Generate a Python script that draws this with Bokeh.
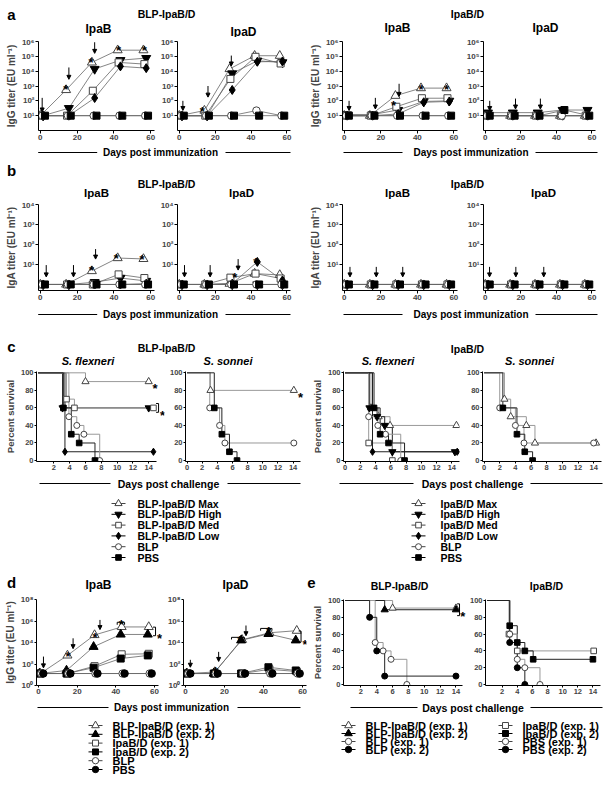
import math
from bokeh.plotting import figure
from bokeh.layouts import column, row
from bokeh.models import Range1d, Label, Arrow, NormalHead, FixedTicker, ColumnDataSource
from bokeh.transform import dodge
from bokeh.core.properties import value
from bokeh.embed import file_html
from bokeh.resources import INLINE

FONT = "Liberation Sans"

# ======================= DATA =======================
DAYS = [0, 14, 28, 42, 56]
IMM_GROUPS = ["Max", "High", "Med", "Low", "BLP", "PBS"]

# (a) serum IgG titers (EU/ml)
IGG_BLP_IPAB = {"Max": [10, 540, 39000, 260000, 260000], "High": [10, 32, 14000, 55000, 76000],
                "Med": [10, 10, 480, 39000, 30000], "Low": [10, 10, 155, 21000, 16000],
                "BLP": [10, 10, 10, 10, 10], "PBS": [10, 10, 10, 10, 10]}
IGG_BLP_IPAD = {"Max": [10, 22, 14000, 110000, 110000], "High": [10, 10, 7000, 50000, 39000],
                "Med": [10, 10, 3000, 93000, 33000], "Low": [10, 10, 540, 43000, 45000],
                "BLP": [10, 10, 10, 22, 10], "PBS": [10, 10, 10, 10, 10]}
IGG_IPABD_IPAB = {"Max": [10, 10, 220, 720, 720], "High": [12, 12, 24, 91, 100],
                  "Med": [10, 10, 40, 150, 150], "Low": [10, 10, 13, 80, 91],
                  "BLP": [10, 10, 10, 10, 10], "PBS": [10, 10, 10, 10, 10]}
IGG_IPABD_IPAD = {"Max": [10, 10, 10, 10, 10], "High": [16, 16, 16, 24, 24],
                  "Med": [10, 10, 10, 10, 10], "Low": [10, 10, 10, 10, 10],
                  "BLP": [10, 10, 10, 10, 10], "PBS": [10, 10, 10, 24, 10]}

# (b) IgA titers (EU/ml)
IGA_BLP_IPAB = {"Max": [1, 1, 4.7, 21, 19], "High": [1, 1, 1.3, 2.1, 1.5],
                "Med": [1, 1, 1, 3.2, 2.1], "Low": [1, 1, 1, 1, 1.1],
                "BLP": [1, 1, 1, 1, 1], "PBS": [1, 1, 1, 1, 1]}
IGA_BLP_IPAD = {"Max": [1, 1, 1.1, 3.5, 3], "High": [1, 1, 1, 1, 1],
                "Med": [1, 1, 2.2, 3.5, 2], "Low": [1, 1, 1.1, 13.5, 1.6],
                "BLP": [1, 1, 1, 1, 1], "PBS": [1, 1, 1, 1, 1]}
IGA_IPABD_IPAB = {"Max": [1, 1, 1, 1, 1], "High": [1, 1, 1, 1, 1], "Med": [1, 1, 1, 1, 1],
                  "Low": [1, 1, 1, 1, 1], "BLP": [1, 1, 1, 1, 1], "PBS": [1, 1, 1, 1, 1]}
IGA_IPABD_IPAD = {"Max": [1, 1, 1, 1, 1], "High": [1, 1, 1, 1, 1], "Med": [1, 1, 1, 1, 1],
                  "Low": [1, 1, 1, 1, 1], "BLP": [1, 1, 1, 1, 1], "PBS": [1, 1, 1, 1, 1]}

# (c) survival: (days, percent survival)
SURV_BLP_FLEX = {"Max": ([0, 6.0, 14.0], [100, 90, 90]),
                 "High": ([0, 3.1, 14.0], [100, 60, 60]),
                 "Med": ([0, 3.6, 4.6, 14.6], [100, 70, 60, 60]),
                 "Low": ([0, 3.4, 14.6], [100, 10, 10]),
                 "BLP": ([0, 3.9, 4.9, 5.8, 7.8], [100, 50, 40, 30, 0]),
                 "PBS": ([0, 3.2, 4.2, 5.2, 7.2], [100, 60, 30, 20, 0])}
SURV_BLP_SONN = {"Max": ([0, 3.1, 14.1], [100, 80, 80]),
                 "BLP": ([0, 3.0, 4.3, 5.0, 14.1], [100, 60, 40, 20, 20]),
                 "PBS": ([0, 3.6, 4.6, 5.6, 6.6], [100, 60, 30, 10, 0])}
SURV_IPABD_FLEX = {"Max": ([0, 3.4, 4.4, 5.9, 14.6], [100, 60, 50, 40, 40]),
                   "High": ([0, 3.2, 4.2, 5.2, 6.2, 14.4], [100, 60, 50, 40, 10, 10]),
                   "Med": ([0, 3.1, 6.2], [100, 20, 0]),
                   "Low": ([0, 3.6, 14.7], [100, 10, 10]),
                   "BLP": ([0, 3.1, 4.3, 5.3, 7.3], [100, 50, 40, 30, 0]),
                   "PBS": ([0, 3.8, 4.6, 5.7, 7.8], [100, 60, 30, 20, 0])}
SURV_IPABD_SONN = {"Max": ([0, 2.6, 3.4, 5.4, 6.5, 14.3], [100, 70, 50, 40, 20, 20]),
                   "BLP": ([0, 2.0, 4.0, 5.1, 14.0], [100, 60, 40, 20, 20]),
                   "PBS": ([0, 2.4, 4.2, 5.2, 6.2], [100, 60, 30, 10, 0])}

# (d) IgG titers, two experiments
IGG_EXP_IPAB = {"BLP-IpaB/D (exp. 1)": [13, 630, 50000, 280000, 280000],
                "BLP-IpaB/D (exp. 2)": [13, 25, 4000, 56000, 56000],
                "IpaB/D (exp. 1)": [13, 13, 63, 800, 890],
                "IpaB/D (exp. 2)": [13, 13, 45, 320, 630],
                "BLP": [13, 13, 13, 13, 13], "PBS": [13, 13, 13, 13, 13]}
IGG_EXP_IPAD = {"BLP-IpaB/D (exp. 1)": [13, 18, 18000, 80000, 126000],
                "BLP-IpaB/D (exp. 2)": [13, 13, 16000, 63000, 16000],
                "IpaB/D (exp. 1)": [13, 13, 13, 32, 20],
                "IpaB/D (exp. 2)": [13, 13, 13, 50, 25],
                "BLP": [13, 13, 13, 13, 13], "PBS": [13, 13, 13, 13, 13]}

# (e) survival, two experiments
SURV_EXP_BLP = {"BLP-IpaB/D (exp. 1)": ([0, 6.0, 14.0], [100, 91, 91]),
                "BLP-IpaB/D (exp. 2)": ([0, 5.0, 14.0], [100, 89, 89]),
                "BLP (exp. 1)": ([0, 3.8, 4.8, 5.8, 7.8], [100, 50, 40, 30, 0]),
                "BLP (exp. 2)": ([0, 3.1, 4.0, 5.0, 14.0], [100, 80, 40, 10, 10])}
SURV_EXP_IPABD = {"IpaB/D (exp. 1)": ([0, 2.9, 4.0, 14.1], [100, 60, 40, 40]),
                  "IpaB/D (exp. 2)": ([0, 3.0, 4.0, 5.0, 6.1, 14.0], [100, 70, 50, 40, 30, 30]),
                  "PBS (exp. 1)": ([0, 3.0, 4.0, 5.0, 7.0], [100, 60, 30, 20, 0]),
                  "PBS (exp. 2)": ([0, 3.0, 4.0, 5.0], [100, 50, 20, 0])}

LEGEND_C_LEFT = ["BLP-IpaB/D Max", "BLP-IpaB/D High", "BLP-IpaB/D Med", "BLP-IpaB/D Low", "BLP", "PBS"]
LEGEND_C_RIGHT = ["IpaB/D Max", "IpaB/D High", "IpaB/D Med", "IpaB/D Low", "BLP", "PBS"]
LEGEND_D = ["BLP-IpaB/D (exp. 1)", "BLP-IpaB/D (exp. 2)", "IpaB/D (exp. 1)", "IpaB/D (exp. 2)", "BLP", "PBS"]
LEGEND_E_LEFT = ["BLP-IpaB/D (exp. 1)", "BLP-IpaB/D (exp. 2)", "BLP (exp. 1)", "BLP (exp. 2)"]
LEGEND_E_RIGHT = ["IpaB/D (exp. 1)", "IpaB/D (exp. 2)", "PBS (exp. 1)", "PBS (exp. 2)"]

# annotations (arrows: day, tail, tip ; stars: day, level) - log10 units on titer panels
ANN_A = [
    dict(arrows=[(1, 2.2, 1.25), (15.5, 4.25, 3.45), (29.5, 5.95, 5.2)],
         stars=[(13.8, 3.25), (27.5, 5.05), (42.5, 5.9), (56.5, 5.9)]),
    dict(arrows=[(2, 2.0, 1.35), (16, 3.0, 2.25), (29, 5.05, 4.35)], stars=[(12.8, 1.75)]),
    dict(arrows=[(2.6, 2.0, 1.35), (17, 2.2, 1.45), (30, 3.15, 2.3)],
         stars=[(27, 2.15), (42, 3.25), (56, 3.25)]),
    dict(arrows=[(2.5, 2.0, 1.35), (17, 2.15, 1.45), (31, 2.15, 1.45)], stars=[]),
]
ANN_B = [
    dict(arrows=[(3.2, 0.97, 0.38), (18, 0.97, 0.38), (30, 1.77, 1.27)],
         stars=[(27.8, 1.05), (41.2, 1.67), (55.2, 1.6)]),
    dict(arrows=[(2.9, 0.97, 0.38), (17.2, 0.97, 0.38), (32.8, 1.27, 0.72)],
         stars=[(31, 0.72), (42.7, 1.47)]),
    dict(arrows=[(3.1, 0.88, 0.38), (17.5, 0.88, 0.38), (32, 0.88, 0.38)], stars=[]),
    dict(arrows=[(2.4, 0.88, 0.38), (17.2, 0.88, 0.38), (32.9, 0.88, 0.38)], stars=[]),
]
ANN_C = [
    dict(stars=[(14.8, 90), (15.75, 60)], rbrackets=[(15.25, 55, 65)]),
    dict(stars=[(15.0, 80)]),
    dict(), dict(),
]
ANN_D = [
    dict(arrows=[(2.6, 2.69, 1.64), (17.9, 4.39, 3.43), (31.8, 6.1, 5.2)],
         stars=[(15.3, 3.34), (28.5, 4.09), (29.3, 5.16), (42.8, 6.33), (62.6, 5.07)],
         tbrackets=[(40.7, 44.5, 5.88, 5.65)], rbrackets=[(60.5, 4.63, 5.43)]),
    dict(arrows=[(2.5, 2.39, 1.7), (17, 3.13, 2.24), (31, 5.58, 4.63)],
         stars=[(15.4, 1.94), (27.8, 4.84), (42.6, 5.67), (61.2, 4.48)],
         tbrackets=[(23.6, 30.2, 4.48, 4.28), (38.5, 44.3, 5.31, 5.1)], rbrackets=[(59.2, 4.03, 5.07)]),
]
ANN_E = [dict(stars=[(14.85, 89.4)], rbrackets=[(14.45, 82, 96)]), dict()]

# ======================= STYLES =======================
STY = {
    "open_tri": dict(marker="triangle", fill="white", edge="#444", curve="#999"),
    "inv_tri": dict(marker="inverted_triangle", fill="black", edge="black", curve="#222"),
    "open_sq": dict(marker="square", fill="white", edge="#444", curve="#999"),
    "diamond": dict(marker="diamond", fill="black", edge="black", curve="#222"),
    "open_circ": dict(marker="circle", fill="white", edge="#444", curve="#999"),
    "sq": dict(marker="square", fill="black", edge="black", curve="#222"),
    "tri": dict(marker="triangle", fill="black", edge="black", curve="#222"),
    "circ": dict(marker="circle", fill="black", edge="black", curve="#222"),
}
MSIZE = {"triangle": 9, "inverted_triangle": 9, "square": 7, "diamond": 9, "circle": 7.5}
GROUP_STYLE = {"Max": "open_tri", "High": "inv_tri", "Med": "open_sq", "Low": "diamond", "BLP": "open_circ", "PBS": "sq"}
LEG_C_STYLE = dict(zip(LEGEND_C_LEFT + LEGEND_C_RIGHT, [GROUP_STYLE[g] for g in IMM_GROUPS] * 2))
EXP_STYLE = {"BLP-IpaB/D (exp. 1)": "open_tri", "BLP-IpaB/D (exp. 2)": "tri", "IpaB/D (exp. 1)": "open_sq",
             "IpaB/D (exp. 2)": "sq", "BLP": "open_circ", "PBS": "circ", "BLP (exp. 1)": "open_circ",
             "BLP (exp. 2)": "circ", "PBS (exp. 1)": "open_circ", "PBS (exp. 2)": "circ"}
IMM_OFFSET = {"Max": 0.0, "High": 1.5, "Med": 0.5, "Low": 1.5, "BLP": 1.0, "PBS": 2.5}
EXP_OFFSET = {"BLP-IpaB/D (exp. 1)": 1.0, "BLP-IpaB/D (exp. 2)": 0.5, "IpaB/D (exp. 1)": 1.0,
              "IpaB/D (exp. 2)": 0.5, "BLP": 1.5, "PBS": 2.5}

SUP = {0: "\u2070", 1: "\u00b9", 2: "\u00b2", 3: "\u00b3", 4: "\u2074", 5: "\u2075",
       6: "\u2076", 7: "\u2077", 8: "\u2078"}
W = 612


# ======================= HELPERS =======================
class Panel:
    def __init__(self, box, frame, xr, yr, ylog=False, axes=True):
        self.box, self.frame, self.xr, self.yr, self.ylog = box, frame, xr, yr, ylog
        bx0, bx1, by0, by1 = box
        fx0, fx1, fy0, fy1 = frame
        if not axes:
            kw = dict(x_axis_type=None, y_axis_type=None)
        else:
            kw = dict(y_axis_type="log" if ylog else "linear")
        self.p = figure(width=bx1 - bx0, height=by1 - by0, x_range=Range1d(*xr), y_range=Range1d(*yr),
                        min_border_left=fx0 - bx0, min_border_right=bx1 - fx1,
                        min_border_top=fy0 - by0, min_border_bottom=by1 - fy1,
                        toolbar_location=None, output_backend="svg", title=None, **kw)
        self.p.outline_line_color = None

    def _t(self, v):
        return math.log10(v) if self.ylog else v

    def d2i(self, x, y):
        fx0, fx1, fy0, fy1 = self.frame
        x0, x1 = self.xr
        y0, y1 = self._t(self.yr[0]), self._t(self.yr[1])
        return (fx0 + (x - x0) / (x1 - x0) * (fx1 - fx0),
                fy1 - (self._t(y) - y0) / (y1 - y0) * (fy1 - fy0))

    def i2d(self, ix, iy):
        fx0, fx1, fy0, fy1 = self.frame
        x0, x1 = self.xr
        y0, y1 = self._t(self.yr[0]), self._t(self.yr[1])
        t = y0 + (fy1 - iy) / (fy1 - fy0) * (y1 - y0)
        return (x0 + (ix - fx0) / (fx1 - fx0) * (x1 - x0), 10 ** t if self.ylog else t)

    def text(self, ix, iy, s, size, style="bold", align="center", baseline="middle"):
        x, y = self.i2d(ix, iy)
        self.p.add_layout(Label(x=x, y=y, text=s, text_font=FONT, text_font_size=size,
                                text_font_style=style, text_align=align, text_baseline=baseline,
                                text_color="black"))

    def seg(self, ix0, iy0, ix1, iy1, color="black", width=1):
        x0, y0 = self.i2d(ix0, iy0)
        x1, y1 = self.i2d(ix1, iy1)
        self.p.add_layout(Arrow(x_start=x0, y_start=y0, x_end=x1, y_end=y1, end=None,
                                line_color=color, line_width=width))


def deco(y0, y1, x0=0, x1=W):
    return Panel((x0, x1, y0, y1), (x0, x1, y0, y1), (x0, x1), (y1, y0), axes=False)


def style_axes(pn, xticks, yticks, xbounds, ylabels=None, ylabel=None, tick_size="8px", label_size="10px", tick_out=3):
    p = pn.p
    p.xgrid.visible = False
    p.ygrid.visible = False
    for ax in (p.xaxis[0], p.yaxis[0]):
        ax.axis_line_color = "black"
        ax.axis_line_width = 1
        ax.major_tick_line_color = "black"
        ax.major_tick_in = 0
        ax.major_tick_out = tick_out
        ax.minor_tick_line_color = None
        ax.major_label_text_font = FONT
        ax.major_label_text_font_style = "bold"
        ax.major_label_text_font_size = tick_size
        ax.major_label_standoff = 1
    p.xaxis[0].ticker = FixedTicker(ticks=xticks)
    p.xaxis[0].bounds = xbounds
    p.yaxis[0].ticker = FixedTicker(ticks=yticks)
    if ylabels:
        p.yaxis[0].major_label_overrides = ylabels
    if ylabel:
        ax = p.yaxis[0]
        ax.axis_label = ylabel
        ax.axis_label_text_font = FONT
        ax.axis_label_text_font_style = "bold"
        ax.axis_label_text_font_size = label_size
        ax.axis_label_standoff = 2


def log_labels(exps):
    return {10 ** k: "10" + SUP[k] for k in exps}


def draw_titer(pn, table, style_of, offset_of, scale=1.0):
    p = pn.p
    srcs = {g: ColumnDataSource(dict(day=DAYS, titer=v)) for g, v in table.items()}
    for g in table:
        p.line(x=dodge("day", offset_of[g]), y="titer", source=srcs[g], line_color="#666", line_width=0.8)
    for g in table:
        st = STY[style_of[g]]
        p.scatter(x=dodge("day", offset_of[g]), y="titer", source=srcs[g], marker=st["marker"],
                  size=MSIZE[st["marker"]] * scale, fill_color=st["fill"], line_color=st["edge"], line_width=1)


def draw_surv(pn, table, style_of, scale=0.8):
    p = pn.p
    for g, (d, s) in table.items():
        st = STY[style_of[g]]
        p.step(d, s, mode="after", line_color=st["curve"], line_width=1)
    for g, (d, s) in table.items():
        st = STY[style_of[g]]
        p.scatter(d[1:], s[1:], marker=st["marker"], size=MSIZE[st["marker"]] * scale,
                  fill_color=st["fill"], line_color=st["edge"], line_width=1)


def star(pn, x, y, size=13):
    ix, iy = pn.d2i(x, y)
    pn.text(ix, iy + 0.56 * size, "*", f"{size}px", baseline="alphabetic")


def annotate(pn, ann):
    f = (lambda v: 10 ** v) if pn.ylog else (lambda v: v)
    for x, tail, tip in ann.get("arrows", []):
        pn.p.add_layout(Arrow(x_start=x, y_start=f(tail), x_end=x, y_end=f(tip), line_width=1,
                              line_color="black",
                              end=NormalHead(size=4, fill_color="black", line_color="black", line_width=1)))
    for x, y in ann.get("stars", []):
        star(pn, x, f(y))
    for x, ylo, yhi in ann.get("rbrackets", []):
        ix, ilo = pn.d2i(x, f(ylo))
        _, ihi = pn.d2i(x, f(yhi))
        pn.seg(ix - 2.5, ihi, ix, ihi)
        pn.seg(ix, ihi, ix, ilo)
        pn.seg(ix - 2.5, ilo, ix, ilo)
    for x0, x1, ytop, yleg in ann.get("tbrackets", []):
        ia, it = pn.d2i(x0, f(ytop))
        ib, il = pn.d2i(x1, f(yleg))
        pn.seg(ia, il, ia, it)
        pn.seg(ia, it, ib, it)
        pn.seg(ib, it, ib, il)


def draw_legend(pn, labels, style_of, mx, tx, y0, dy, size, mscale=0.8, half=7):
    p = pn.p
    ys = [y0 + i * dy for i in range(len(labels))]
    for lab, y in zip(labels, ys):
        st = STY[style_of[lab]]
        p.line([mx - half, mx + half], [y, y], line_color="#444" if st["fill"] == "white" else "black", line_width=1)
        p.scatter([mx], [y], marker=st["marker"], size=MSIZE[st["marker"]] * mscale,
                  fill_color=st["fill"], line_color=st["edge"], line_width=1)
    p.text(x=[tx] * len(labels), y=ys, text=labels, text_font=value(FONT), text_font_style="bold",
           text_font_size=size, text_align="left", text_baseline="middle", text_color="black")


def footer(pn, segs, cx, cy, txt, size="10px"):
    for a, b in segs:
        pn.p.line([a, b], [cy, cy], line_color="black", line_width=1)
    pn.text(cx, cy, txt, size)


# ======================= BUILD =======================
TITER_X = [((0, 157), (38, 154)), ((157, 304), (175, 290)), ((304, 463), (342, 457)), ((463, W), (480, 595))]

# ---- header a (with subplot titles)
hA = deco(0, 37)
hA.text(11, 14, "a", "15px")
hA.text(166, 13, "BLP-IpaB/D", "10.5px")
hA.text(467, 13, "IpaB/D", "10.5px")
for tt, tx, ty in [("IpaB", 98, 28), ("IpaD", 243, 31), ("IpaB", 397, 27), ("IpaD", 545, 27)]:
    hA.text(tx, ty, tt, "12px")

# ---- row a
A_TABLES = [IGG_BLP_IPAB, IGG_BLP_IPAD, IGG_IPABD_IPAB, IGG_IPABD_IPAD]
rowA = []
for i, ((bx, fx), tab, ann) in enumerate(zip(TITER_X, A_TABLES, ANN_A)):
    pn = Panel((bx[0], bx[1], 37, 146), (fx[0], fx[1], 41, 130), (-1, 62), (1, 1e6), ylog=True)
    style_axes(pn, [0, 20, 40, 60], [10 ** k for k in range(1, 7)], (-1, 62), log_labels(range(1, 7)),
               "IgG titer (EU ml\u207b\u00b9)" if i in (0, 2) else None)
    draw_titer(pn, tab, GROUP_STYLE, IMM_OFFSET)
    annotate(pn, ann)
    rowA.append(pn.p)

# ---- footer a + header b
fAB = deco(146, 200)
footer(fAB, [(37.7, 96.7), (225, 290)], 160, 152, "Days post immunization")
footer(fAB, [(343, 402), (535, 597)], 470.5, 152, "Days post immunization")
fAB.text(11, 170, "b", "15px")
fAB.text(166, 183, "BLP-IpaB/D", "10.5px")
fAB.text(467, 183, "IpaB/D", "10.5px")
for tt, tx, ty in [("IpaB", 96, 192), ("IpaD", 241, 192), ("IpaB", 397, 192), ("IpaD", 543, 192)]:
    fAB.text(tx, ty, tt, "11.5px")

# ---- row b
B_TABLES = [IGA_BLP_IPAB, IGA_BLP_IPAD, IGA_IPABD_IPAB, IGA_IPABD_IPAD]
rowB = []
for i, ((bx, fx), tab, ann) in enumerate(zip(TITER_X, B_TABLES, ANN_B)):
    pn = Panel((bx[0], bx[1], 200, 306), (fx[0], fx[1], 204, 290), (-1, 62), (0.5, 1e4), ylog=True)
    style_axes(pn, [0, 20, 40, 60], [10 ** k for k in range(1, 5)], (-1, 62), log_labels(range(1, 5)),
               "IgA titer (EU ml\u207b\u00b9)" if i in (0, 2) else None)
    draw_titer(pn, tab, GROUP_STYLE, IMM_OFFSET)
    annotate(pn, ann)
    rowB.append(pn.p)

# ---- footer b + header c
fBC = deco(306, 367)
footer(fBC, [(37.7, 96.7), (225, 290)], 160, 314, "Days post immunization")
footer(fBC, [(343, 402), (535, 597)], 470.5, 314, "Days post immunization")
fBC.text(11, 346, "c", "15px")
fBC.text(166, 347, "BLP-IpaB/D", "10.5px")
fBC.text(467, 348, "IpaB/D", "10.5px")
for tt, tx, ty in [("S. flexneri", 87.5, 360), ("S. sonnei", 227.5, 360), ("S. flexneri", 387.5, 360), ("S. sonnei", 529, 360)]:
    fBC.text(tx, ty, tt, "11px", style="bold italic")

# ---- row c
SURV_X = [((0, 166), (36, 164), (-0.2, 16.0), (-0.2, 14.95)),
          ((166, 306), (181, 305), (-0.2, 15.64), (-0.2, 15.0)),
          ((306, 463), (343, 459), (-0.2, 15.0), (-0.2, 15.0)),
          ((463, W), (480, 601), (-0.2, 15.0), (-0.2, 15.0))]
C_TABLES = [SURV_BLP_FLEX, SURV_BLP_SONN, SURV_IPABD_FLEX, SURV_IPABD_SONN]
C_XTICKS = [[2, 4, 6, 8, 10, 12, 14], [0, 2, 4, 6, 8, 10, 12, 14], [0, 2, 4, 6, 8, 10, 12, 14], [0, 2, 4, 6, 8, 10, 12, 14]]
rowC = []
for i, ((bx, fx, xr, xb), tab, ann, xt) in enumerate(zip(SURV_X, C_TABLES, ANN_C, C_XTICKS)):
    pn = Panel((bx[0], bx[1], 367, 476), (fx[0], fx[1], 371, 461), xr, (-1.1, 101.5))
    style_axes(pn, xt, [0, 20, 40, 60, 80, 100], xb, None,
               "Percent survival" if i in (0, 2) else None, tick_size="7.5px", label_size="9.5px", tick_out=2)
    draw_surv(pn, tab, GROUP_STYLE)
    annotate(pn, ann)
    rowC.append(pn.p)

# ---- footer c + legend c + header d/e
fCD = deco(476, 592)
footer(fCD, [(39, 110), (227, 300)], 168, 483, "Days post challenge", "10.5px")
footer(fCD, [(339, 413), (530, 602)], 472, 483, "Days post challenge", "10.5px")
draw_legend(fCD, LEGEND_C_LEFT, LEG_C_STYLE, 118, 137, 503, 10.8, "10.5px")
draw_legend(fCD, LEGEND_C_RIGHT, LEG_C_STYLE, 418, 440, 503, 10.8, "10.5px")
fCD.text(11, 582, "d", "15px")
fCD.text(311, 582, "e", "15px")
fCD.text(98, 584, "IpaB", "12px")
fCD.text(235, 584, "IpaD", "12px")
fCD.text(399, 585, "BLP-IpaB/D", "10.5px")
fCD.text(546, 585, "IpaB/D", "10.5px")

# ---- row d / e
rowD = []
D_X = [((0, 164), (36, 162), (-1, 64.1)), ((164, 308), (179, 306), (-1, 62))]
D_TABLES = [IGG_EXP_IPAB, IGG_EXP_IPAD]
for i, ((bx, fx, xr), tab, ann) in enumerate(zip(D_X, D_TABLES, ANN_D)):
    pn = Panel((bx[0], bx[1], 592, 701), (fx[0], fx[1], 597, 685), xr, (1, 1e8), ylog=True)
    style_axes(pn, [0, 20, 40, 60], [10 ** k for k in (0, 2, 4, 6, 8)], (-1, 62), log_labels((0, 2, 4, 6, 8)),
               "IgG titer (EU ml\u207b\u00b9)" if i == 0 else None, tick_out=2)
    draw_titer(pn, tab, EXP_STYLE, EXP_OFFSET)
    annotate(pn, ann)
    rowD.append(pn.p)

E_X = [((308, 466), (338, 466), (-0.2, 15.33), (-0.2, 14.87)),
       ((466, W), (481, 600), (-0.2, 15.0), (-0.2, 15.0))]
E_TABLES = [SURV_EXP_BLP, SURV_EXP_IPABD]
for i, ((bx, fx, xr, xb), tab, ann) in enumerate(zip(E_X, E_TABLES, ANN_E)):
    pn = Panel((bx[0], bx[1], 592, 701), (fx[0], fx[1], 599, 686), xr, (-1.2, 101.2))
    style_axes(pn, [2, 4, 6, 8, 10, 12, 14], [0, 20, 40, 60, 80, 100], xb, None,
               "Percent survival" if i == 0 else None, tick_size="7.5px", label_size="9.5px", tick_out=2)
    draw_surv(pn, tab, EXP_STYLE)
    annotate(pn, ann)
    rowD.append(pn.p)

# ---- footer d/e + legends
fEnd = deco(701, 786)
footer(fEnd, [(37, 108), (237, 300)], 171, 707, "Days post immunization")
footer(fEnd, [(350, 417), (530, 602)], 472.5, 707, "Days post challenge", "10.5px")
draw_legend(fEnd, LEGEND_D, EXP_STYLE, 95, 112, 725, 8.8, "11px", mscale=0.85)
draw_legend(fEnd, LEGEND_E_LEFT, EXP_STYLE, 348, 365, 725, 8.0, "11px", mscale=0.85)
draw_legend(fEnd, LEGEND_E_RIGHT, EXP_STYLE, 505, 522, 725, 8.0, "11px", mscale=0.85)

layout = column(hA.p, row(*rowA), fAB.p, row(*rowB), fBC.p, row(*rowC), fCD.p, row(*rowD), fEnd.p)

open("out.html", "w").write(file_html(layout, INLINE, "Figure"))
